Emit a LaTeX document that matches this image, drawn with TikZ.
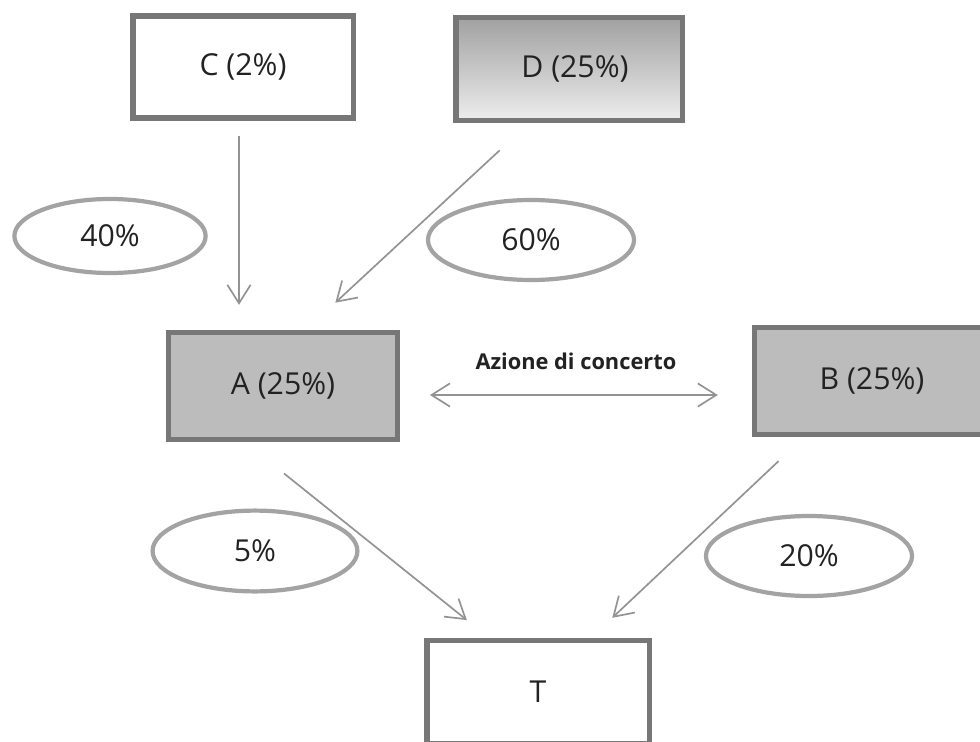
\documentclass[tikz,border=0pt]{standalone}
\usepackage{fontspec}
\setmainfont{Open Sans}
\usetikzlibrary{arrows.meta,shapes}
\definecolor{boxline}{HTML}{777777}
\definecolor{boxfill}{HTML}{BCBCBC}
\definecolor{ovalline}{HTML}{A3A3A3}
\definecolor{arrline}{HTML}{939393}
\definecolor{txt}{HTML}{222222}

\begin{document}
\begin{tikzpicture}[x=0.025cm,y=-0.025cm,
  every node/.style={font=\fontsize{21.5}{25}\selectfont,text=txt},
  box/.style={rectangle,draw=boxline,line width=3.6pt,inner sep=0pt},
  oval/.style={ellipse,draw=ovalline,line width=3pt,inner sep=0pt},
  arr/.style={draw=arrline,line width=1.2pt,-{Straight Barb[length=0.46cm,width=0.58cm]}},
  dblarr/.style={draw=arrline,line width=1.2pt,{Straight Barb[length=0.46cm,width=0.58cm]}-{Straight Barb[length=0.46cm,width=0.58cm]}}]
\clip (0,0) rectangle (980,742);
\node[box,minimum width=5.5cm,minimum height=2.55cm] (C) at (243,67) {C (2\%)};
\node[box,minimum width=5.65cm,minimum height=2.58cm,top color=black!37,bottom color=black!7] (D) at (569,69) {\hspace{0.3cm}D (25\%)};
\node[box,fill=boxfill,minimum width=5.72cm,minimum height=2.68cm] (A) at (283,386) {A (25\%)};
\node[box,fill=boxfill,minimum width=5.88cm,minimum height=2.68cm] (B) at (872,381) {B (25\%)};
\node[box,minimum width=5.55cm,minimum height=2.58cm] (T) at (538,692) {T};
\node[oval,minimum width=4.78cm,minimum height=1.85cm] (p40) at (110,236) {\raisebox{-0.12cm}{40\%}};
\node[oval,minimum width=5.15cm,minimum height=2.0cm] (p60) at (531,240) {\raisebox{-0.08cm}{60\%}};
\node[oval,minimum width=5.12cm,minimum height=2.02cm] (p5) at (255,551) {5\%};
\node[oval,minimum width=5.15cm,minimum height=2.0cm] (p20) at (809,556) {20\%};
\draw[arr,shorten <=0.375cm,shorten >=0.625cm] ([shift={(-4,0)}]C.south) -- ([shift={(-4,0)}]C.south |- A.north);
\draw[arr,shorten <=1cm,shorten >=1cm] ([shift={(-40,0)}]D.south) -- ([shift={(23,0)}]A.north);
\draw[dblarr,shorten <=0.75cm,shorten >=0.85cm] ([shift={(0,9)}]A.east) -- ([shift={(0,9)}]A.east -| B.west)
  node[midway,above=0.5cm,font=\fontsize{15.5}{18}\selectfont\bfseries] (conc) {Azione di concerto};
\draw[arr,shorten <=1.25cm,shorten >=0.71cm] ([shift={(-38,0)}]A.south) -- ([shift={(-49,0)}]T.north);
\draw[arr,shorten <=0.875cm,shorten >=0.73cm] ([shift={(-68,0)}]B.south) -- ([shift={(53,0)}]T.north);
\end{tikzpicture}
\end{document}
